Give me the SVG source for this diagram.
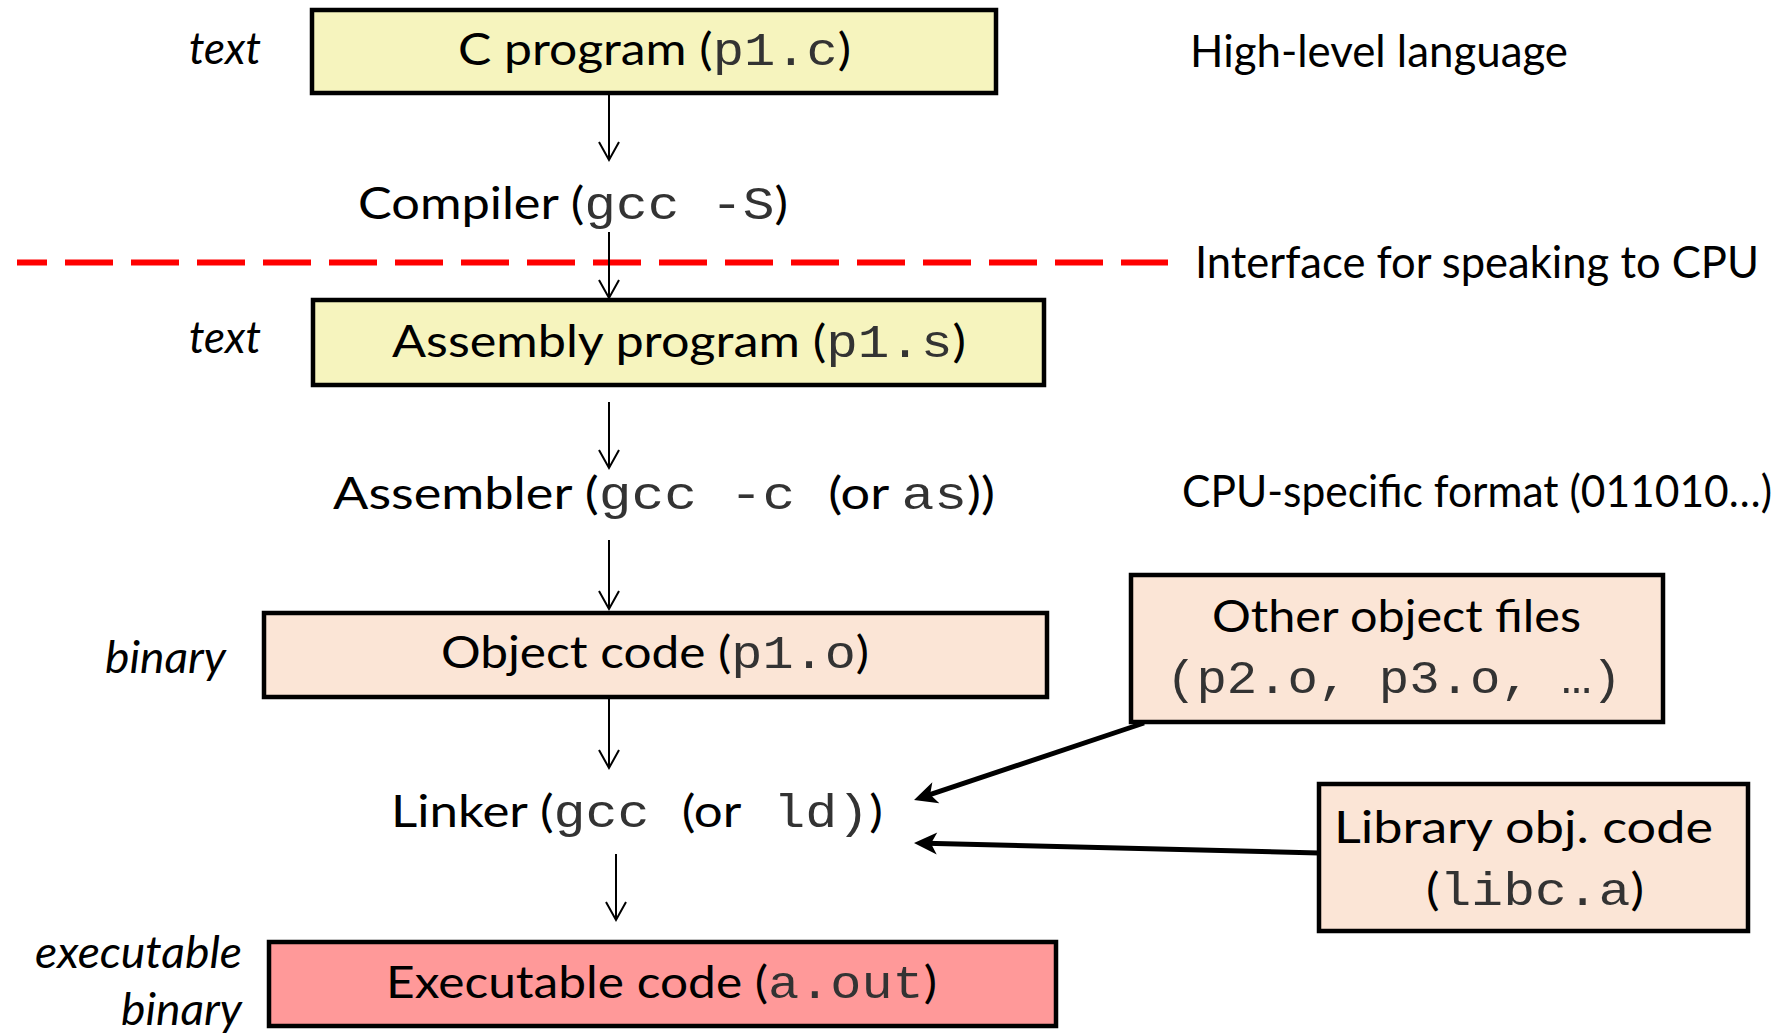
<svg xmlns="http://www.w3.org/2000/svg" width="1791" height="1036" viewBox="0 0 1791 1036">
<style>
.box{stroke:#000;stroke-width:4.5}
.yel{fill:#F6F4BE}
.peach{fill:#FBE5D6}
.pink{fill:#FF9999}
.t{font-family:Lato,"Liberation Sans",sans-serif;font-size:44px;fill:#000}
.it{font-family:Lato,"Liberation Sans",sans-serif;font-size:44px;font-style:italic;fill:#000}
.m{font-family:"Liberation Mono","DejaVu Sans Mono",monospace;font-size:46px;fill:#333}
.thin{stroke:#000;stroke-width:2;fill:none}
.thick{stroke:#000;stroke-width:5;fill:none}
</style>
<defs>
<marker id="open" markerUnits="userSpaceOnUse" viewBox="-22 -13 24 26" markerWidth="24" markerHeight="26" refX="0" refY="0" orient="auto" overflow="visible">
<path d="M-18,-10 L0,0 L-18,10" fill="none" stroke="#000" stroke-width="2"/>
</marker>
<marker id="solid" markerUnits="userSpaceOnUse" viewBox="-26 -13 28 26" markerWidth="28" markerHeight="26" refX="-12" refY="0" orient="auto" overflow="visible">
<path d="M0,0 L-23,-11 L-17,0 L-23,11 Z" fill="#000"/>
</marker>
</defs>
<rect width="1791" height="1036" fill="#fff"/>

<line x1="17" y1="262.5" x2="1168" y2="262.5" stroke="#FF0000" stroke-width="6" stroke-dasharray="48 18" stroke-dashoffset="18"/>

<g id="side-labels">
<text class="it" x="189" y="64" textLength="72" lengthAdjust="spacingAndGlyphs">text</text>
<text class="it" x="189" y="353" textLength="72" lengthAdjust="spacingAndGlyphs">text</text>
<text class="it" x="105" y="673" textLength="121" lengthAdjust="spacingAndGlyphs">binary</text>
<text class="it" x="35" y="968" textLength="207" lengthAdjust="spacingAndGlyphs">executable</text>
<text class="it" x="121" y="1025" textLength="121" lengthAdjust="spacingAndGlyphs">binary</text>
<text class="t" x="1190" y="67" textLength="378" lengthAdjust="spacingAndGlyphs">High-level language</text>
<text class="t" x="1195" y="278" textLength="564" lengthAdjust="spacingAndGlyphs">Interface for speaking to CPU</text>
<text class="t" x="1182" y="507" textLength="590" lengthAdjust="spacingAndGlyphs">CPU-specific format (011010…)</text>
</g>

<g id="c-program">
<rect class="box yel" x="312" y="10" width="684" height="83"/>
<text class="t" x="458" y="65" textLength="393" lengthAdjust="spacingAndGlyphs">C program (<tspan class="m">p1.c</tspan>)</text>
</g>

<g id="compiler">
<text class="t" x="358" y="219" textLength="430" lengthAdjust="spacingAndGlyphs">Compiler (<tspan class="m">gcc -S</tspan>)</text>
</g>

<g id="assembly-program">
<rect class="box yel" x="313" y="300" width="731" height="85"/>
<text class="t" x="392" y="357" textLength="574" lengthAdjust="spacingAndGlyphs">Assembly program (<tspan class="m">p1.s</tspan>)</text>
</g>

<g id="assembler">
<text class="t" x="333" y="509" textLength="662" lengthAdjust="spacingAndGlyphs">Assembler (<tspan class="m">gcc -c </tspan>(or <tspan class="m">as</tspan>))</text>
</g>

<g id="object-code">
<rect class="box peach" x="264" y="613" width="783" height="84"/>
<text class="t" x="441" y="668" textLength="428" lengthAdjust="spacingAndGlyphs">Object code (<tspan class="m">p1.o</tspan>)</text>
</g>

<g id="linker">
<text class="t" x="391" y="827" textLength="492" lengthAdjust="spacingAndGlyphs">Linker (<tspan class="m">gcc </tspan>(or<tspan class="m"> ld)</tspan>)</text>
</g>

<g id="executable-code">
<rect class="box pink" x="269" y="942" width="787" height="84"/>
<text class="t" x="386" y="998" textLength="551" lengthAdjust="spacingAndGlyphs">Executable code (<tspan class="m">a.out</tspan>)</text>
</g>

<g id="other-object-files">
<rect class="box peach" x="1131" y="575" width="532" height="147"/>
<text class="t" x="1212" y="632" textLength="369" lengthAdjust="spacingAndGlyphs">Other object files</text>
<text class="m" x="1166" y="693" textLength="456" lengthAdjust="spacingAndGlyphs">(p2.o, p3.o, …)</text>
</g>

<g id="library-obj-code">
<rect class="box peach" x="1319" y="784" width="429" height="147"/>
<text class="t" x="1334" y="843" textLength="379" lengthAdjust="spacingAndGlyphs">Library obj. code</text>
<text class="t" x="1426" y="905" textLength="218" lengthAdjust="spacingAndGlyphs">(<tspan class="m">libc.a</tspan>)</text>
</g>

<g id="connectors">
<line class="thin" x1="609" y1="93" x2="609" y2="160" marker-end="url(#open)"/>
<line class="thin" x1="609" y1="232" x2="609" y2="298" marker-end="url(#open)"/>
<line class="thin" x1="609" y1="402" x2="609" y2="468" marker-end="url(#open)"/>
<line class="thin" x1="609" y1="540" x2="609" y2="609" marker-end="url(#open)"/>
<line class="thin" x1="609" y1="699" x2="609" y2="768" marker-end="url(#open)"/>
<line class="thin" x1="616" y1="854" x2="616" y2="920" marker-end="url(#open)"/>
<line class="thick" x1="1144" y1="723" x2="925.4" y2="796.2" marker-end="url(#solid)"/>
<line class="thick" x1="1319" y1="853" x2="926" y2="843.3" marker-end="url(#solid)"/>
</g>
</svg>
